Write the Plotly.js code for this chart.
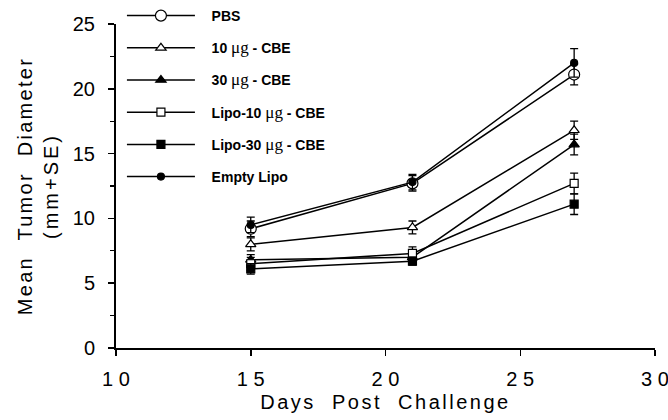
<!DOCTYPE html>
<html><head><meta charset="utf-8">
<script src="https://cdn.plot.ly/plotly-3.0.1.min.js"></script>
<style>body{margin:0;background:#fff}#c{width:668px;height:420px}</style>
</head><body><div id="c"></div>
<script>
const days = [15, 21, 27];
const seriesNames = ["PBS", "10 μg - CBE", "30 μg - CBE", "Lipo-10 μg - CBE", "Lipo-30 μg - CBE", "Empty Lipo"];
const pbs      = [9.2, 12.7, 21.1];
const cbe10    = [8.0, 9.3, 16.8];
const cbe30    = [6.8, 7.0, 15.7];
const lipo10   = [6.5, 7.3, 12.7];
const lipo30   = [6.1, 6.7, 11.1];
const emptyLipo= [9.5, 12.8, 22.0];
const pbsSE    = [0.6, 0.6, 0.8];
const cbe10SE  = [0.5, 0.5, 0.7];
const cbe30SE  = [0.4, 0.4, 0.8];
const lipo10SE = [0.5, 0.5, 0.8];
const lipo30SE = [0.4, 0.3, 0.8];
const emptySE  = [0.6, 0.6, 1.1];
const xTickVals = [10, 15, 20, 25, 30];
const xTickText = ["1 0", "1 5", "2 0", "2 5", "3 0"];
const xTitle = "Days  Post  Challenge";
const yTitle1 = "Mean  Tumor  Diameter";
const yTitle2 = "(mm+SE)";

const spaced = (s, ls) => "<span style='letter-spacing:" + ls + "px'>" + s + "</span>";
const mu = s => "\u200b\u00a0\u00a0\u00a0" + s.replace("μg", "<span style='font-family:Liberation Serif;font-size:17px;font-weight:normal'>μg</span>");
function tr(y, se, name, sym, fill, size) {
  return {
    x: days, y: y, name: mu(name), type: "scatter", mode: "lines+markers",
    legendgroup: name,
    line: {color: "#000", width: 1.5},
    marker: {symbol: sym, size: size, color: fill, line: {color: "#000", width: 1.2}},
    error_y: {type: "data", array: se, visible: true, color: "#000", thickness: 1.3, width: 4}
  };
}
const data = [
  tr(pbs, pbsSE, seriesNames[0], "circle", "#fff", 11),
  tr(cbe10, cbe10SE, seriesNames[1], "triangle-up", "#fff", 9),
  tr(cbe30, cbe30SE, seriesNames[2], "triangle-up", "#000", 9),
  tr(lipo10, lipo10SE, seriesNames[3], "square", "#fff", 8),
  tr(lipo30, lipo30SE, seriesNames[4], "square", "#000", 8),
  tr(emptyLipo, emptySE, seriesNames[5], "circle", "#000", 7)
];
const font = {family: "Liberation Sans, Arial, sans-serif", color: "#000"};
const layout = {
  width: 668, height: 420,
  margin: {l: 116, r: 13, t: 24, b: 72, autoexpand: false},
  paper_bgcolor: "#fff", plot_bgcolor: "#fff",
  font: font,
  showlegend: true,
  legend: {x: 0.011, xanchor: "left", y: 1.074, yanchor: "top", bgcolor: "rgba(0,0,0,0)",
           font: {family: "Liberation Sans, Arial", size: 14, weight: "bold", color: "#000"},
           itemwidth: 68, tracegroupgap: 11},
  xaxis: {range: [10, 30], tickvals: xTickVals, ticktext: xTickText, showgrid: false, zeroline: false,
          showline: true, linecolor: "#000", linewidth: 2, ticks: "outside", ticklen: 6, tickwidth: 1.5, tickcolor: "#000",
          tickfont: {size: 20}, ticklabeloverflow: "allow", ticklabelstandoff: 6,
          title: {text: spaced(xTitle, 2.5), font: {size: 20}, standoff: 6}},
  yaxis: {range: [0, 25], dtick: 5, showgrid: false, zeroline: false,
          showline: true, linecolor: "#000", linewidth: 2, ticks: "outside", ticklen: 6, tickwidth: 1.5, tickcolor: "#000",
          minor: {dtick: 2.5, ticks: "outside", ticklen: 4, tickwidth: 1.2, tickcolor: "#000", showgrid: false},
          tickfont: {size: 20}, ticklabelstandoff: 9,
          title: {text: spaced(yTitle1, 2.3) + "<br>" + spaced(yTitle2, 3.0), font: {size: 20}, standoff: 9}}
};
Plotly.newPlot("c", data, layout, {displayModeBar: false, staticPlot: true});
</script></body></html>
